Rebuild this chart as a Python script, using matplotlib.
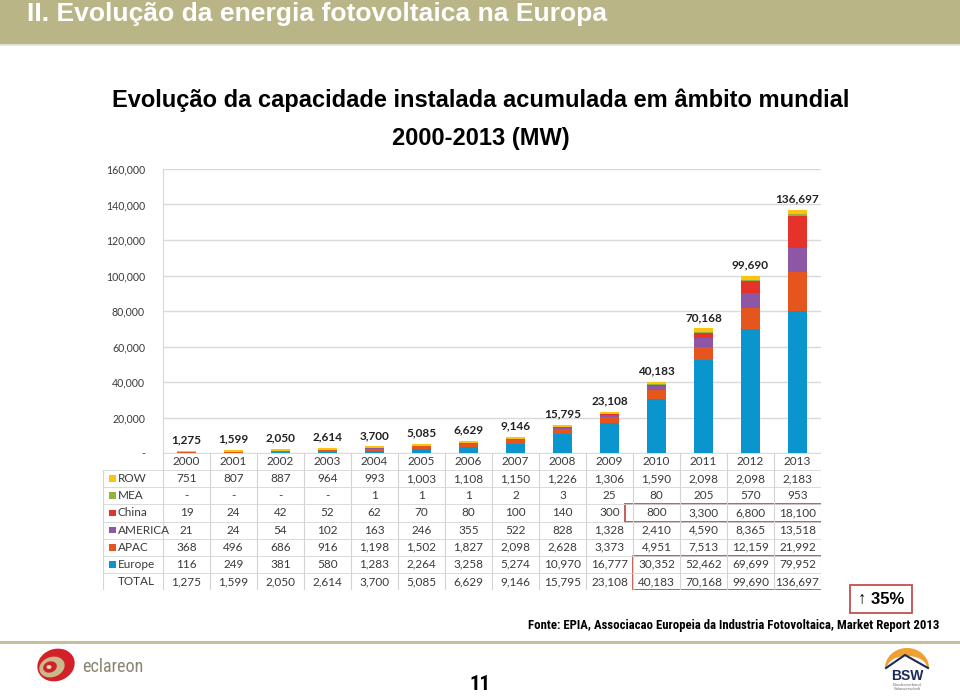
import matplotlib
matplotlib.use("Agg")
import matplotlib.pyplot as plt
import matplotlib.patches as mpatches
from matplotlib import font_manager
import numpy as np

# ---------------- data ----------------
years = ["2000", "2001", "2002", "2003", "2004", "2005", "2006",
         "2007", "2008", "2009", "2010", "2011", "2012", "2013"]
europe = [116, 249, 381, 580, 1283, 2264, 3258, 5274, 10970, 16777, 30352, 52462, 69699, 79952]
apac = [368, 496, 686, 916, 1198, 1502, 1827, 2098, 2628, 3373, 4951, 7513, 12159, 21992]
america = [21, 24, 54, 102, 163, 246, 355, 522, 828, 1328, 2410, 4590, 8365, 13518]
china = [19, 24, 42, 52, 62, 70, 80, 100, 140, 300, 800, 3300, 6800, 18100]
mea = [0, 0, 0, 0, 1, 1, 1, 2, 3, 25, 80, 205, 570, 953]
row_vals = [751, 807, 887, 964, 993, 1003, 1108, 1150, 1226, 1306, 1590, 2098, 2098, 2183]
total = [1275, 1599, 2050, 2614, 3700, 5085, 6629, 9146, 15795, 23108, 40183, 70168, 99690, 136697]

series_names = ["Europe", "APAC", "AMERICA", "China", "MEA", "ROW"]
series_values = [europe, apac, america, china, mea, row_vals]
series_colors = ["#0a95cf", "#e4561d", "#8e57a5", "#e5322a", "#94b23d", "#fcc30f"]

table_order = ["ROW", "MEA", "China", "AMERICA", "APAC", "Europe"]
yticks = [0, 20000, 40000, 60000, 80000, 100000, 120000, 140000, 160000]
ytick_labels = ["-", "20,000", "40,000", "60,000", "80,000", "100,000", "120,000", "140,000", "160,000"]

title = "II. Evolução da energia fotovoltaica na Europa"
subtitle1 = "Evolução da capacidade instalada acumulada em âmbito mundial"
subtitle2 = "2000-2013 (MW)"
source = "Fonte: EPIA, Associacao Europeia da Industria Fotovoltaica, Market Report 2013"
growth = "↑ 35%"
page = "11"

# ---------------- fonts ----------------
avail = {f.name for f in font_manager.fontManager.ttflist}
narrow_name = None
for cand in ["Liberation Sans Narrow", "Arial Narrow", "Roboto Condensed",
             "DejaVu Sans Condensed", "Open Sans Condensed", "Liberation Sans"]:
    if cand in avail:
        narrow_name = cand
        break
NARROW = [narrow_name or "DejaVu Sans", "DejaVu Sans"]
ARIAL = ["Liberation Sans", "DejaVu Sans"]
CAL = ["Lato", "DejaVu Sans"]
TXT = "#3a3a3a"

# ---------------- figure ----------------
W, H = 960, 697
fig = plt.figure(figsize=(W / 100, H / 100), dpi=100)
fig.patch.set_facecolor("white")
renderer = fig.canvas.get_renderer()


def fit(t, width_px):
    """Scale a text's font size so that it spans width_px pixels."""
    w = t.get_window_extent(renderer=renderer).width
    t.set_fontsize(t.get_fontsize() * width_px / w)
    return t


# overlay axes in pixel coordinates
ov = fig.add_axes([0, 0, 1, 1], zorder=0)
ov.set_xlim(0, W)
ov.set_ylim(H, 0)
ov.axis("off")

# header band
ov.add_patch(mpatches.Rectangle((0, 0), W, 44, color="#b9b586", lw=0))
ov.add_patch(mpatches.Rectangle((0, 44), W, 2, color="#e4e2d2", lw=0))
fit(ov.text(27, 21.5, title, color="white", fontsize=18, fontweight="bold",
            family=ARIAL, va="baseline", ha="left"), 580)

# subtitles
ov.text(481, 100, subtitle1, fontsize=17, fontweight="bold", family=ARIAL,
        ha="center", va="center", color="black")
ov.text(481, 139, subtitle2, fontsize=17, fontweight="bold", family=ARIAL,
        ha="center", va="center", color="black")

# growth box
ov.add_patch(mpatches.Rectangle((850, 585), 62, 28, fill=False, ec="#c0504d", lw=1.3))
ov.text(881, 599, growth, fontsize=12, fontweight="bold", family=ARIAL,
        ha="center", va="center", color="black")

# source
fit(ov.text(939, 629, source, fontsize=8, fontweight="bold", family=NARROW,
            ha="right", va="baseline", color="black"), 409)

# separator line
ov.add_patch(mpatches.Rectangle((0, 641), W, 3, color="#c4c09c", lw=0))

# page number
ov.text(480, 684, page, fontsize=15, family=NARROW, fontweight="bold",
        ha="center", va="center", color="black")

# eclareon logo
ov.add_patch(mpatches.Ellipse((56, 665), 38, 32, angle=-20, color="#d42027", lw=0))
ov.add_patch(mpatches.Ellipse((52, 667), 26, 20, angle=-20, color="#c8b98f", lw=0))
ov.add_patch(mpatches.Ellipse((50, 667), 14, 11, angle=-20, color="#d42027", lw=0))
ov.add_patch(mpatches.Ellipse((49, 667), 5, 4, color="#e8dcc0", lw=0))
fit(ov.text(82, 667, "eclareon", fontsize=12, family=NARROW, color="#8a8571",
            ha="left", va="center"), 61)

# BSW logo
theta = np.linspace(0, np.pi, 50)
outer_x = 907 + 22 * np.cos(theta)
outer_y = 668 - 20 * np.sin(theta)
inner_x = 907 + 20 * np.cos(theta[::-1])
inner_y = 668 - 12 * np.sin(theta[::-1])
ov.add_patch(mpatches.Polygon(np.column_stack([np.r_[outer_x, inner_x], np.r_[outer_y, inner_y]]),
                              closed=True, color="#f0a030", lw=0))
ov.plot([886, 905, 928], [668, 655, 668], color="#1c2a5a", lw=1.5)
ov.text(907, 676, "BSW", fontsize=10, fontweight="bold", family=ARIAL,
        color="#1c2a5a", ha="center", va="center")
ov.text(907, 687, "Bundesverband\nSolarwirtschaft", fontsize=3, family=ARIAL,
        color="#707070", ha="center", va="center", linespacing=1.1)

# ---------------- chart ----------------
L, R, T, B = 163, 821, 169, 453
ax = fig.add_axes([L / W, 1 - B / H, (R - L) / W, (B - T) / H], zorder=2)
ax.patch.set_alpha(0)
x = np.arange(len(years))
bottom = np.zeros(len(years))
for name, vals, col in zip(series_names, series_values, series_colors):
    v = np.array(vals, dtype=float)
    ax.bar(x, v, 0.42, bottom=bottom, color=col, lw=0, zorder=3, label=name)
    bottom += v
for xi, tv in zip(x, total):
    ax.annotate(f"{tv:,}", (xi, bottom[xi]), xytext=(0, 4), textcoords="offset points",
                ha="center", va="bottom", fontsize=8.5, fontweight="bold",
                family=CAL, color="#222222")
ax.set_xlim(-0.5, 13.5)
ax.set_ylim(0, 160000)
ax.set_yticks(yticks)
ax.set_yticklabels(ytick_labels, fontsize=7.6, family=CAL, color=TXT)
ax.tick_params(axis="y", length=0, pad=13)
ax.set_xticks([])
ax.grid(axis="y", color="#d9d9d9", lw=1, zorder=0)
for s in ["top", "right", "bottom"]:
    ax.spines[s].set_visible(False)
ax.spines["left"].set_color("#d9d9d9")

# ---------------- table ----------------
TL, TT, TB = 103, 453, 590
label_w = (L - TL) / ((R - L) / 14)
tab = fig.add_axes([TL / W, 1 - TB / H, (R - TL) / W, (TB - TT) / H], zorder=2)
tab.patch.set_alpha(0)
tab.set_xlim(-0.5 - label_w, 13.5)
tab.set_ylim(8, 0)
tab.axis("off")
gc = "#d4d4d4"
for k in range(15):
    tab.plot([k - 0.5, k - 0.5], [0, 8], color=gc, lw=0.8)
tab.plot([-0.5 - label_w, -0.5 - label_w], [1, 8], color=gc, lw=0.8)
for r in range(0, 9):
    x0 = -0.5 if r == 0 else -0.5 - label_w
    tab.plot([x0, 13.5], [r, r], color=gc, lw=0.6)

for i, yr in enumerate(years):
    tab.text(i, 0.5, yr, ha="center", va="center", fontsize=8.5, family=CAL, color=TXT)

lookup = dict(zip(series_names, series_values))
cmap = dict(zip(series_names, series_colors))
for r, name in enumerate(table_order, start=1):
    vals = lookup[name]
    tab.add_patch(mpatches.Rectangle((-0.5 - label_w + 0.12, r + 0.3), 0.15, 0.4,
                                     color=cmap[name], lw=0))
    tab.text(-0.5 - label_w + 0.31, r + 0.5, name, ha="left", va="center",
             fontsize=8.5, family=CAL, color=TXT)
    for i, v in enumerate(vals):
        tab.text(i, r + 0.5, "-" if v == 0 else f"{v:,}", ha="center", va="center",
                 fontsize=8.5, family=CAL, color=TXT)
tab.text(-0.5 - label_w + 0.31, 7.5, "TOTAL", ha="left", va="center",
         fontsize=8.5, family=CAL, color=TXT)
for i, v in enumerate(total):
    tab.text(i, 7.5, f"{v:,}", ha="center", va="center", fontsize=8.5, family=CAL, color=TXT)

# highlight boxes
red = "#c0504d"
tab.add_patch(mpatches.Rectangle((9.33, 3.0), 13.52 - 9.33, 1.05, fill=False, ec=red, lw=1.3))
tab.add_patch(mpatches.Rectangle((9.5, 6.0), 13.52 - 9.5, 2.0, fill=False, ec=red, lw=1.3))

fig.savefig("out.png", dpi=100)
